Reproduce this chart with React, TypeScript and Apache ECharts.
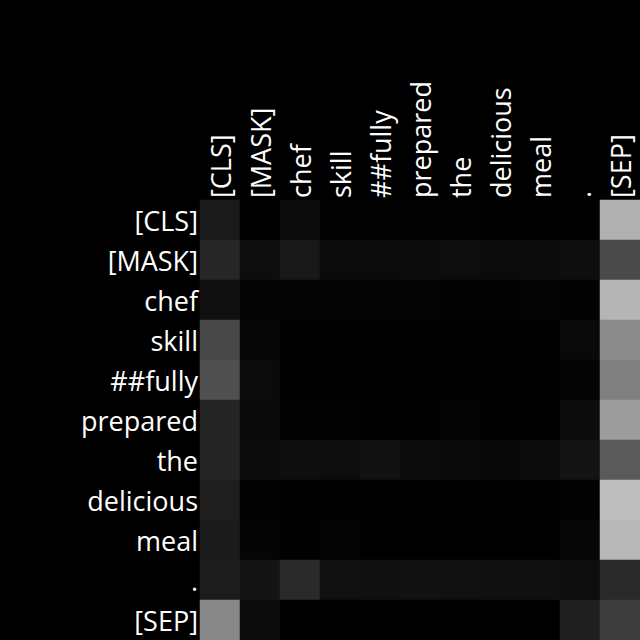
import React, { useEffect, useRef } from "react";
import * as echarts from "echarts";

const tokens = ["[CLS]", "[MASK]", "chef", "skill", "##fully", "prepared", "the", "delicious", "meal", ".", "[SEP]"];

// attention intensity (0-255 grey level), rows = query token, columns = key token
const rowCLS = [26, 0, 12, 2, 2, 2, 2, 1, 1, 1, 176];
const rowMASK = [38, 13, 24, 11, 11, 12, 13, 11, 12, 14, 74];
const rowChef = [16, 5, 4, 4, 4, 5, 3, 2, 4, 3, 181];
const rowSkill = [72, 6, 0, 0, 0, 0, 1, 0, 0, 9, 139];
const rowFully = [80, 11, 0, 1, 0, 0, 1, 0, 0, 5, 128];
const rowPrepared = [37, 10, 3, 2, 1, 0, 5, 0, 0, 12, 157];
const rowThe = [37, 12, 14, 13, 18, 12, 10, 8, 12, 19, 90];
const rowDelicious = [30, 3, 0, 0, 0, 0, 0, 0, 0, 2, 190];
const rowMeal = [27, 5, 1, 4, 0, 0, 0, 0, 0, 6, 184];
const rowDot = [28, 20, 42, 17, 16, 18, 17, 16, 16, 13, 42];
const rowSEP = [136, 12, 0, 0, 0, 0, 0, 0, 0, 31, 61];

const matrix = [rowCLS, rowMASK, rowChef, rowSkill, rowFully, rowPrepared, rowThe, rowDelicious, rowMeal, rowDot, rowSEP];

export default function App() {
  const ref = useRef<HTMLDivElement>(null);
  useEffect(() => {
    document.body.style.margin = "0";
    const chart = echarts.init(ref.current!, null, { renderer: "svg" });
    const data: number[][] = [];
    matrix.forEach((row, y) => row.forEach((v, x) => data.push([x, y, v])));
    const font = "'Open Sans', 'Noto Sans', sans-serif";
    chart.setOption({
      animation: false,
      backgroundColor: "#000000",
      grid: { left: 200, top: 200, right: 0, bottom: 0 },
      xAxis: {
        type: "category",
        data: tokens,
        position: "top",
        axisLine: { show: false },
        axisTick: { show: false },
        splitLine: { show: false },
        axisLabel: { rotate: -90, color: "#ffffff", fontSize: 27, fontFamily: font, margin: 2, interval: 0 },
      },
      yAxis: {
        type: "category",
        data: tokens,
        inverse: true,
        axisLine: { show: false },
        axisTick: { show: false },
        splitLine: { show: false },
        axisLabel: { color: "#ffffff", fontSize: 27, fontFamily: font, margin: 2, interval: 0 },
      },
      visualMap: {
        show: false,
        min: 0,
        max: 255,
        inRange: { color: ["#000000", "#ffffff"] },
      },
      series: [
        {
          type: "heatmap",
          data,
          itemStyle: { borderWidth: 0 },
          emphasis: { disabled: true },
        },
      ],
    });
    return () => chart.dispose();
  }, []);
  return <div ref={ref} style={{ position: "absolute", left: 0, top: 0, width: 640, height: 640 }} />;
}
